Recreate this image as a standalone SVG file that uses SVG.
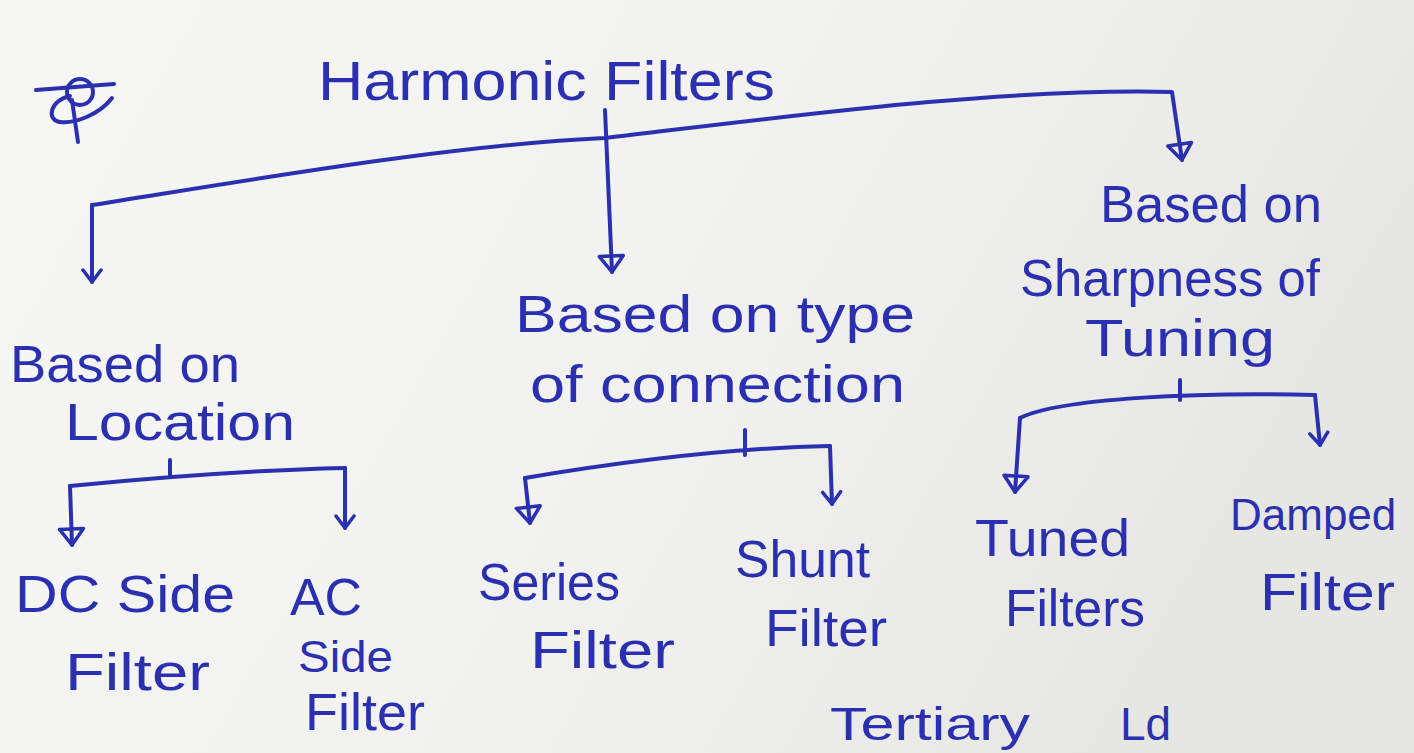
<svg xmlns="http://www.w3.org/2000/svg" width="1414" height="753" viewBox="0 0 1414 753">
<defs>
<linearGradient id="paper" x1="0" y1="0" x2="1" y2="0.3">
<stop offset="0" stop-color="#f7f7f6"/>
<stop offset="0.6" stop-color="#f1f1ef"/>
<stop offset="1" stop-color="#e6e6e3"/>
</linearGradient>
<marker id="ah" viewBox="-14 -14 28 28" markerWidth="28" markerHeight="28" markerUnits="userSpaceOnUse" orient="auto" refX="0" refY="0">
<path d="M-12,-9 L0,0 L-12,9" fill="none" stroke="#2b30b0" stroke-width="3.5" stroke-linecap="round" stroke-linejoin="round"/>
</marker>
<marker id="tri" viewBox="-20 -16 24 32" markerWidth="24" markerHeight="32" markerUnits="userSpaceOnUse" orient="auto" refX="0" refY="0">
<path d="M-16,-12 L0,0 L-16,12 Z" fill="none" stroke="#2b30b0" stroke-width="3.5" stroke-linecap="round" stroke-linejoin="round"/>
</marker>
</defs>
<style>
.t{font-family:"Liberation Sans","DejaVu Sans",sans-serif;fill:#2b30b0;font-size:52px;}
.c{fill:none;stroke:#2b30b0;stroke-width:4;stroke-linecap:round;stroke-linejoin:round;}
</style>
<rect width="1414" height="753" fill="url(#paper)"/>

<g id="mark">
<path class="c" d="M36,90 L114,84"/>
<circle class="c" cx="80" cy="92" r="13"/>
<path class="c" d="M70,96 C50,100 46,120 60,122 C75,124 100,114 112,98 M72,100 L78,142"/>
</g>

<g id="root"><text class="t" x="318" y="100" style="font-size:56px" textLength="457" lengthAdjust="spacingAndGlyphs">Harmonic Filters</text></g>

<g id="connectors">
<path class="c" d="M92,205 C250,180 450,145 605,138 C800,115 1000,88 1172,92 L1182,160" marker-end="url(#tri)"/>
<path class="c" d="M92,205 L92,282" marker-end="url(#ah)"/>
<path class="c" d="M605,110 L612,272" marker-end="url(#tri)"/>

<path class="c" d="M170,460 L170,476 M70,486 C150,478 260,470 345,468"/>
<path class="c" d="M70,486 L72,545" marker-end="url(#tri)"/>
<path class="c" d="M345,468 L345,528" marker-end="url(#ah)"/>

<path class="c" d="M745,430 L745,455 M525,478 C620,462 730,448 830,446"/>
<path class="c" d="M525,478 L530,523" marker-end="url(#tri)"/>
<path class="c" d="M830,446 L832,504" marker-end="url(#ah)"/>

<path class="c" d="M1180,380 L1180,400 M1020,418 C1060,398 1200,392 1315,395"/>
<path class="c" d="M1020,418 L1015,492" marker-end="url(#tri)"/>
<path class="c" d="M1315,395 L1320,445" marker-end="url(#ah)"/>
</g>

<g id="location">
<text class="t" x="10" y="382" textLength="230" lengthAdjust="spacingAndGlyphs">Based on</text>
<text class="t" x="65" y="440" textLength="230" lengthAdjust="spacingAndGlyphs">Location</text>
</g>
<g id="connection">
<text class="t" x="515" y="332" textLength="400" lengthAdjust="spacingAndGlyphs">Based on type</text>
<text class="t" x="530" y="402" textLength="375" lengthAdjust="spacingAndGlyphs">of connection</text>
</g>
<g id="sharpness">
<text class="t" x="1100" y="222" textLength="222" lengthAdjust="spacingAndGlyphs">Based on</text>
<text class="t" x="1020" y="296" textLength="300" lengthAdjust="spacingAndGlyphs">Sharpness of</text>
<text class="t" x="1085" y="356" textLength="190" lengthAdjust="spacingAndGlyphs">Tuning</text>
</g>

<g id="dcside">
<text class="t" x="15" y="612" textLength="220" lengthAdjust="spacingAndGlyphs">DC Side</text>
<text class="t" x="65" y="690" textLength="145" lengthAdjust="spacingAndGlyphs">Filter</text>
</g>
<g id="acside">
<text class="t" x="290" y="615" textLength="72" lengthAdjust="spacingAndGlyphs">AC</text>
<text class="t" x="298" y="672" style="font-size:44px" textLength="95" lengthAdjust="spacingAndGlyphs">Side</text>
<text class="t" x="305" y="730" textLength="120" lengthAdjust="spacingAndGlyphs">Filter</text>
</g>
<g id="series">
<text class="t" x="478" y="600" textLength="142" lengthAdjust="spacingAndGlyphs">Series</text>
<text class="t" x="530" y="668" textLength="145" lengthAdjust="spacingAndGlyphs">Filter</text>
</g>
<g id="shunt">
<text class="t" x="735" y="577" textLength="135" lengthAdjust="spacingAndGlyphs">Shunt</text>
<text class="t" x="765" y="646" textLength="122" lengthAdjust="spacingAndGlyphs">Filter</text>
</g>
<g id="tuned">
<text class="t" x="975" y="556" textLength="155" lengthAdjust="spacingAndGlyphs">Tuned</text>
<text class="t" x="1005" y="626" textLength="140" lengthAdjust="spacingAndGlyphs">Filters</text>
</g>
<g id="damped">
<text class="t" x="1230" y="530" style="font-size:44px">Damped</text>
<text class="t" x="1260" y="610" textLength="135" lengthAdjust="spacingAndGlyphs">Filter</text>
</g>
<g id="bottom">
<text class="t" x="830" y="740" style="font-size:46px" textLength="200" lengthAdjust="spacingAndGlyphs">Tertiary</text>
<text class="t" x="1120" y="740" style="font-size:46px">Ld</text>
</g>
</svg>
